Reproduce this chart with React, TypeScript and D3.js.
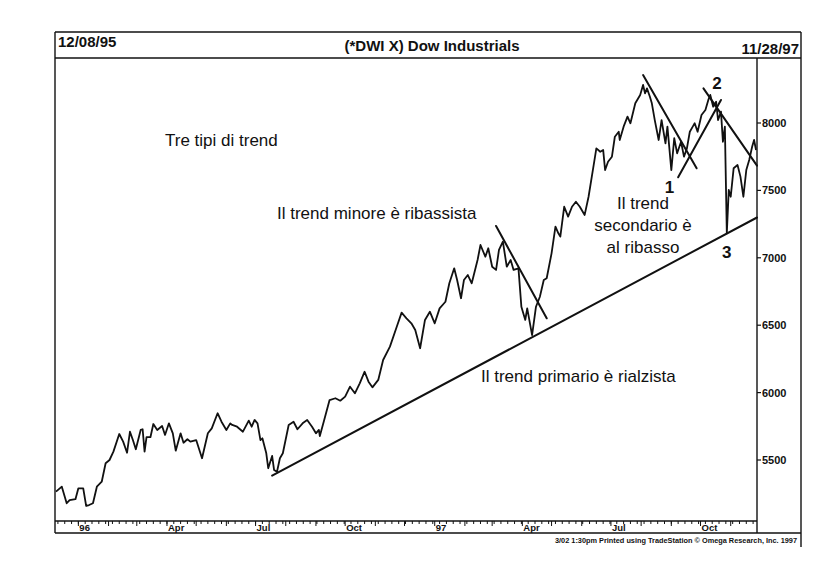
import React from 'react';
import * as d3 from 'd3';

const startDate = '1995-12-08';
const endDate = '1997-11-28';

const dates = [
  '1995-12-09','1995-12-15','1995-12-20','1995-12-23','1995-12-29','1996-01-01','1996-01-06','1996-01-09','1996-01-12','1996-01-16',
  '1996-01-20','1996-01-25','1996-01-29','1996-02-02','1996-02-06','1996-02-12','1996-02-16','1996-02-20','1996-02-23','1996-02-26',
  '1996-02-29','1996-03-05','1996-03-07','1996-03-09','1996-03-11','1996-03-15','1996-03-18','1996-03-22','1996-03-27','1996-03-30',
  '1996-04-03','1996-04-07','1996-04-10','1996-04-15','1996-04-18','1996-04-22','1996-04-25','1996-05-01','1996-05-07','1996-05-13',
  '1996-05-17','1996-05-23','1996-05-27','1996-06-01','1996-06-05','1996-06-07','1996-06-12','1996-06-18','1996-06-24','1996-06-27',
  '1996-06-30','1996-07-03','1996-07-06','1996-07-08','1996-07-12','1996-07-14','1996-07-18','1996-07-20','1996-07-23','1996-07-26',
  '1996-07-29','1996-08-04','1996-08-09','1996-08-13','1996-08-19','1996-08-23','1996-08-28','1996-09-01','1996-09-04','1996-09-05',
  '1996-09-09','1996-09-15','1996-09-21','1996-09-26','1996-10-01','1996-10-06','1996-10-11','1996-10-16','1996-10-21','1996-10-25',
  '1996-10-29','1996-11-04','1996-11-09','1996-11-16','1996-11-23','1996-11-28','1996-12-03','1996-12-08','1996-12-12','1996-12-17',
  '1996-12-22','1996-12-27','1997-01-01','1997-01-06','1997-01-12','1997-01-16','1997-01-21','1997-01-24','1997-01-28','1997-01-31',
  '1997-02-04','1997-02-08','1997-02-14','1997-02-17','1997-02-22','1997-02-25','1997-03-01','1997-03-05','1997-03-08','1997-03-12',
  '1997-03-16','1997-03-20','1997-03-23','1997-03-28','1997-03-31','1997-04-04','1997-04-06','1997-04-11','1997-04-15','1997-04-19',
  '1997-04-23','1997-04-26','1997-05-01','1997-05-05','1997-05-08','1997-05-10','1997-05-14','1997-05-18','1997-05-22','1997-05-26',
  '1997-05-30','1997-06-04','1997-06-08','1997-06-13','1997-06-16','1997-06-20','1997-06-23','1997-06-25','1997-06-28','1997-07-02',
  '1997-07-05','1997-07-09','1997-07-10','1997-07-14','1997-07-18','1997-07-21','1997-07-26','1997-07-31','1997-08-03','1997-08-05',
  '1997-08-07','1997-08-10','1997-08-12','1997-08-15','1997-08-19','1997-08-22','1997-08-26','1997-08-28','1997-09-01','1997-09-04',
  '1997-09-07','1997-09-11','1997-09-14','1997-09-17','1997-09-20','1997-09-23','1997-09-25','1997-09-28','1997-10-02','1997-10-06',
  '1997-10-09','1997-10-11','1997-10-14','1997-10-17','1997-10-19','1997-10-22','1997-10-24','1997-10-26','1997-10-28','1997-10-30',
  '1997-11-01','1997-11-04','1997-11-08','1997-11-11','1997-11-14','1997-11-17','1997-11-20','1997-11-23','1997-11-25','1997-11-27',
];

const closes = [
  5265,5302,5179,5203,5209,5290,5290,5159,5166,5179,
  5302,5339,5476,5500,5562,5693,5636,5554,5710,5648,
  5580,5723,5728,5562,5669,5669,5767,5723,5752,5686,
  5772,5698,5569,5698,5628,5654,5636,5648,5513,5698,
  5735,5847,5784,5723,5772,5760,5747,5710,5792,5747,
  5797,5772,5648,5661,5550,5439,5530,5426,5413,5513,
  5550,5760,5784,5728,5777,5797,5747,5698,5723,5678,
  5784,5945,5958,5940,5970,6044,5995,6069,6155,6081,
  6039,6094,6242,6341,6489,6593,6551,6514,6464,6329,
  6539,6600,6514,6625,6674,6811,6922,6835,6700,6835,
  6872,6811,6984,7095,7008,7071,6934,6910,7058,7120,
  6934,6984,6910,6922,6637,6539,6625,6427,6637,6711,
  6835,6848,7033,7231,7182,7157,7379,7305,7379,7416,
  7379,7318,7453,7676,7812,7787,7800,7651,7713,7750,
  7898,7935,7874,7973,8047,7998,8146,8208,8282,8220,
  8257,8195,8146,8022,7874,8022,7849,7973,7651,7887,
  7775,7861,7750,7812,7935,7973,7998,7935,8059,8096,
  8171,8208,8121,8158,8022,8084,7861,7973,7182,7503,
  7453,7664,7688,7602,7453,7651,7726,7824,7874,7800,
];

const yTicks = [5500, 6000, 6500, 7000, 7500, 8000];
const yDomain = [5500, 8000];

// trend lines: [startDate, startValue, endDate, endValue]
const primaryTrend: [string, number, string, number] = ['1996-07-18', 5384, '1997-11-28', 7299];
const minorTrend: [string, number, string, number] = ['1997-03-05', 7236, '1997-04-26', 6551];
const secondaryTrends: [string, number, string, number][] = [
  ['1997-08-03', 8356, '1997-09-27', 7664],
  ['1997-09-08', 7597, '1997-10-22', 8171],
  ['1997-10-04', 8257, '1997-11-28', 7684],
];

// numbered points on the secondary trend
const pointLabels = ['1', '2', '3'];
const pointDates = ['1997-08-30', '1997-10-18', '1997-10-28'];
const pointValues = [7527, 8294, 7045];

const FONT = "'Liberation Sans', Arial, Helvetica, sans-serif";

export default function App() {
  const W = 840, H = 568;
  const left = 55, right = 757, outerRight = 801;
  const top = 32, sep = 58, axisY = 521, bottom = 533;

  const parse = d3.timeParse('%Y-%m-%d');
  const t0 = parse(startDate)!;
  const t1 = parse(endDate)!;
  const x = d3.scaleTime().domain([t0, t1]).range([left, right]);
  const y = d3.scaleLinear().domain(yDomain).range([460, 123]);

  const series = dates.map((d, i) => ({ date: parse(d)!, value: closes[i] }));
  const line = d3
    .line<{ date: Date; value: number }>()
    .x((d) => x(d.date))
    .y((d) => y(d.value));

  const seg = (s: [string, number, string, number]) => ({
    x1: x(parse(s[0])!), y1: y(s[1]), x2: x(parse(s[2])!), y2: y(s[3]),
  });

  const weekTicks = d3.timeMonday.range(t0, t1);
  const monthTicks = d3.timeMonth.range(d3.timeMonth.ceil(t0), t1);
  const monthLabel = (d: Date) => {
    const m = d.getMonth();
    if (m === 0) return String(d.getFullYear()).slice(2);
    if (m === 3) return 'Apr';
    if (m === 6) return 'Jul';
    if (m === 9) return 'Oct';
    return '';
  };

  const annot = { fontFamily: FONT, fontSize: 17, fill: '#111' } as const;

  return (
    <svg width={W} height={H} style={{ position: 'absolute', left: 0, top: 0, background: '#fff' }}>
      <rect x={0} y={0} width={W} height={H} fill="#fff" />
      {/* frame */}
      <g stroke="#111" strokeWidth={1.4} fill="none">
        <line x1={left} y1={top} x2={outerRight} y2={top} />
        <line x1={left} y1={sep} x2={outerRight} y2={sep} />
        <line x1={left} y1={top} x2={left} y2={bottom} />
        <line x1={outerRight} y1={top} x2={outerRight} y2={bottom + 14} />
        <line x1={right} y1={sep} x2={right} y2={bottom} />
        <line x1={left} y1={axisY} x2={right} y2={axisY} />
        <line x1={left} y1={bottom} x2={outerRight} y2={bottom} />
      </g>

      {/* header */}
      <text x={58} y={47} fontFamily={FONT} fontWeight="bold" fontSize={15} fill="#111">12/08/95</text>
      <text x={432} y={51} textAnchor="middle" fontFamily={FONT} fontWeight="bold" fontSize={15} fill="#111">(*DWI X) Dow Industrials</text>
      <text x={799} y={54} textAnchor="end" fontFamily={FONT} fontWeight="bold" fontSize={15} fill="#111">11/28/97</text>

      {/* right axis */}
      <g>
        {yTicks.map((v) => (
          <g key={v}>
            <line x1={right} y1={y(v)} x2={right + 4} y2={y(v)} stroke="#111" strokeWidth={1.2} />
            <text x={right + 5} y={y(v) + 4} fontFamily={FONT} fontWeight="bold" fontSize={11} fill="#111">{v}</text>
          </g>
        ))}
      </g>

      {/* bottom axis */}
      <g stroke="#111" strokeWidth={1}>
        {weekTicks.map((d, i) => (
          <line key={'w' + i} x1={x(d)} y1={axisY} x2={x(d)} y2={axisY + 3} />
        ))}
        {monthTicks.map((d, i) => (
          <line key={'m' + i} x1={x(d)} y1={axisY} x2={x(d)} y2={axisY + 5} />
        ))}
      </g>
      {monthTicks.map((d, i) => {
        const lbl = monthLabel(d);
        return lbl ? (
          <text key={'l' + i} x={x(d) + 1} y={axisY + 10} fontFamily={FONT} fontWeight="bold" fontSize={9.5} fill="#111">{lbl}</text>
        ) : null;
      })}

      {/* price line */}
      <path d={line(series) || ''} fill="none" stroke="#111" strokeWidth={1.8} strokeLinejoin="round" />

      {/* trend lines */}
      <g stroke="#111" strokeWidth={2} strokeLinecap="round">
        <line {...seg(primaryTrend)} />
        <line {...seg(minorTrend)} />
        {secondaryTrends.map((s, i) => (
          <line key={i} {...seg(s)} />
        ))}
      </g>

      {/* numbered points */}
      {pointLabels.map((l, i) => (
        <text key={l} x={x(parse(pointDates[i])!)} y={y(pointValues[i]) + 6} textAnchor="middle" fontFamily={FONT} fontWeight="bold" fontSize={17} fill="#111">{l}</text>
      ))}

      {/* annotations */}
      <text x={165} y={146} {...annot}>Tre tipi di trend</text>
      <text x={277} y={219} {...annot}>Il trend minore è ribassista</text>
      <text x={481} y={382} {...annot}>Il trend primario è rialzista</text>
      <text x={643} y={209} textAnchor="middle" {...annot}>Il trend</text>
      <text x={643} y={231} textAnchor="middle" {...annot}>secondario è</text>
      <text x={643} y={253} textAnchor="middle" {...annot}>al ribasso</text>

      {/* footer */}
      <text x={797} y={543} textAnchor="end" fontFamily={FONT} fontWeight="bold" fontSize={6.5} textLength={242} lengthAdjust="spacingAndGlyphs" fill="#111">3/02 1:30pm Printed using TradeStation © Omega Research, Inc. 1997</text>
    </svg>
  );
}
